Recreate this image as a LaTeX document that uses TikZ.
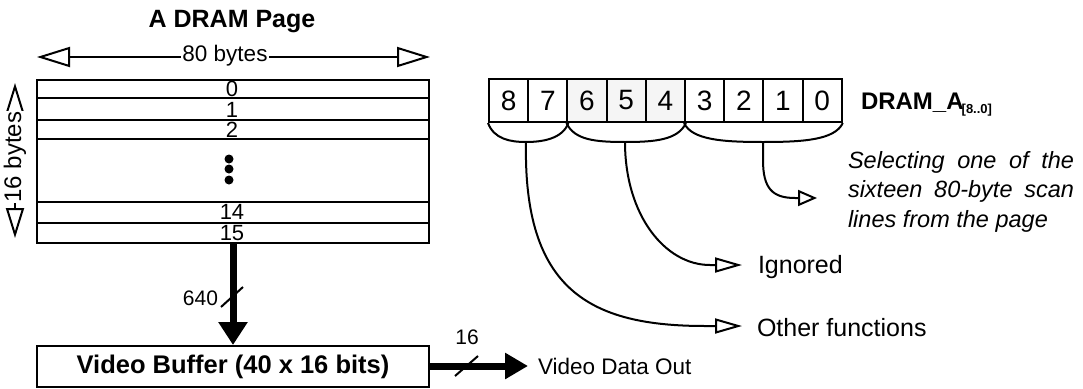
\documentclass[tikz,border=0pt]{standalone}
\usepackage{fontspec}
\setmainfont{Liberation Sans}
\usetikzlibrary{arrows.meta}
\begin{document}
\begin{tikzpicture}[x=1pt,y=-1pt,line width=2pt,
  fs/.style={font=\fontsize{#1}{#1}\selectfont},
  fsb/.style={font=\fontsize{#1}{#1}\selectfont\bfseries},
  lbl/.style={inner sep=0pt},
  rownum/.style={inner sep=0pt,font=\fontsize{22}{22}\selectfont,text height=15pt,text depth=0pt},
  cell/.style={draw,line width=2pt,minimum width=39.2pt,minimum height=43pt,inner sep=0pt,fs=28,anchor=north west},
  graycell/.style={cell,fill=black!4},
  bothbig/.style={{Triangle[open,length=33pt,width=20pt]}-{Triangle[open,length=33pt,width=20pt]}},
  bothv/.style={{Triangle[open,length=30pt,width=18pt]}-{Triangle[open,length=30pt,width=18pt]}},
  smallopen/.style={-{Triangle[open,length=19pt,width=16pt]}},
  longopen/.style={-{Triangle[open,length=27pt,width=15pt]}},
  fatarrow/.style={line width=7pt,-{Triangle[length=23pt,width=28pt]}},
  rowline/.style={line width=2pt}]
\useasboundingbox (0,0) rectangle (1083,388);

% title and page
\node[fsb=25] (title) at (232,22) {A DRAM Page};
\node[draw,line width=2pt,minimum width=392pt,minimum height=163pt,anchor=north west,inner sep=0pt] (page) at (36,79) {};
\foreach \yy in {98,120,139,202,223} \draw[rowline] (36,\yy) -- (428,\yy);
\node[rownum] (r0) at (232,89) {0};
\node[rownum] (r1) at (232,110) {1};
\node[rownum] (r2) at (232,130) {2};
\node[rownum] (r14) at (232,212) {14};
\node[rownum] (r15) at (232,233) {15};
\fill (229,159) circle (4.5pt);
\fill (229,169) circle (4.5pt);
\fill (229,180) circle (4.5pt);

% 80 bytes
\coordinate (wl) at (37,57);
\coordinate (wr) at (430,57);
\draw[bothbig] (wl) -- (wr);
\node[fs=22.5,fill=white,inner sep=1pt,anchor=base] (w80) at (225,61) {80 bytes};

% 16 bytes
\coordinate (ht) at (15,83);
\coordinate (hb) at (15,238);
\draw[bothv] (ht) -- (hb);
\node[fs=24,fill=white,inner sep=0.5pt,rotate=90] (h16) at (15,157) {16 bytes};

% video buffer
\node[draw,line width=2pt,minimum width=392pt,minimum height=41pt,anchor=north west,inner sep=0pt,fsb=25.5] (buf) at (36,345) {Video Buffer (40 x 16 bits)};
\draw[fatarrow] (page.south) -- (buf.north);
\draw (221,307) -- (243,287);
\node[fs=21,lbl,anchor=east] (n640) at (219,298) {640};
\coordinate (vout) at (528,366);
\draw[line width=7pt,-{Triangle[length=23pt,width=25pt]}] (buf.east |- vout) -- (vout);
\draw (455,376) -- (478,356);
\node[fs=21,lbl] (n16) at (467,337) {16};
\node[fs=22.5,lbl,anchor=west] (vdo) at (537,366) {Video Data Out};

% register
\foreach \i/\n in {0/8,1/7,5/3,6/2,7/1,8/0}
  \node[cell] (c\n) at ({488+39.2*\i},78) {\n};
\foreach \i/\n in {2/6,3/5,4/4}
  \node[graycell] (c\n) at ({488+39.2*\i},78) {\n};
\node[fsb=24,lbl,anchor=base west] (dram) at (860,109) {DRAM\_A\kern-2pt\raisebox{-4pt}{\fontsize{13}{13}\selectfont\bfseries[8..0]}};

% braces
\coordinate (b1) at (526,142);
\coordinate (b2) at (625,142);
\coordinate (b3) at (763,142);
\draw (c8.south west) .. controls +(6,16) and +(-16,0) .. (b1) .. controls +(16,0) and +(-6,16) .. (c7.south east);
\draw (c6.south west) .. controls +(8,17) and +(-30,0) .. (b2) .. controls +(30,0) and +(-8,17) .. (c4.south east);
\draw (c3.south west) .. controls +(8,17) and +(-40,0) .. (b3) .. controls +(40,0) and +(-8,17) .. (c0.south east);

% stems
\coordinate (a3) at (817,198);
\coordinate (a2) at (742,265);
\coordinate (a1) at (742,326);
\draw[smallopen] (b3) -- (763,160) .. controls (763,188) and (772,198) .. (795,198) -- (a3);
\draw[longopen] (b2) .. controls (625,215) and (665,265) .. (710,265) -- (a2);
\draw[longopen] (b1) .. controls (523,290) and (590,326) .. (705,326) -- (a1);

\node[fs=25,lbl,anchor=base west] (ign) at (757,273) {Ignored};
\node[fs=25,lbl,anchor=base west] (oth) at (756,336) {Other functions};
\node[lbl,anchor=north west,text width=226pt,align=justify,font=\fontsize{23.5}{29.5}\selectfont\itshape] (sel) at (847,150)
  {Selecting one of the\linebreak sixteen 80-byte scan\linebreak lines from the page};
\end{tikzpicture}
\end{document}
